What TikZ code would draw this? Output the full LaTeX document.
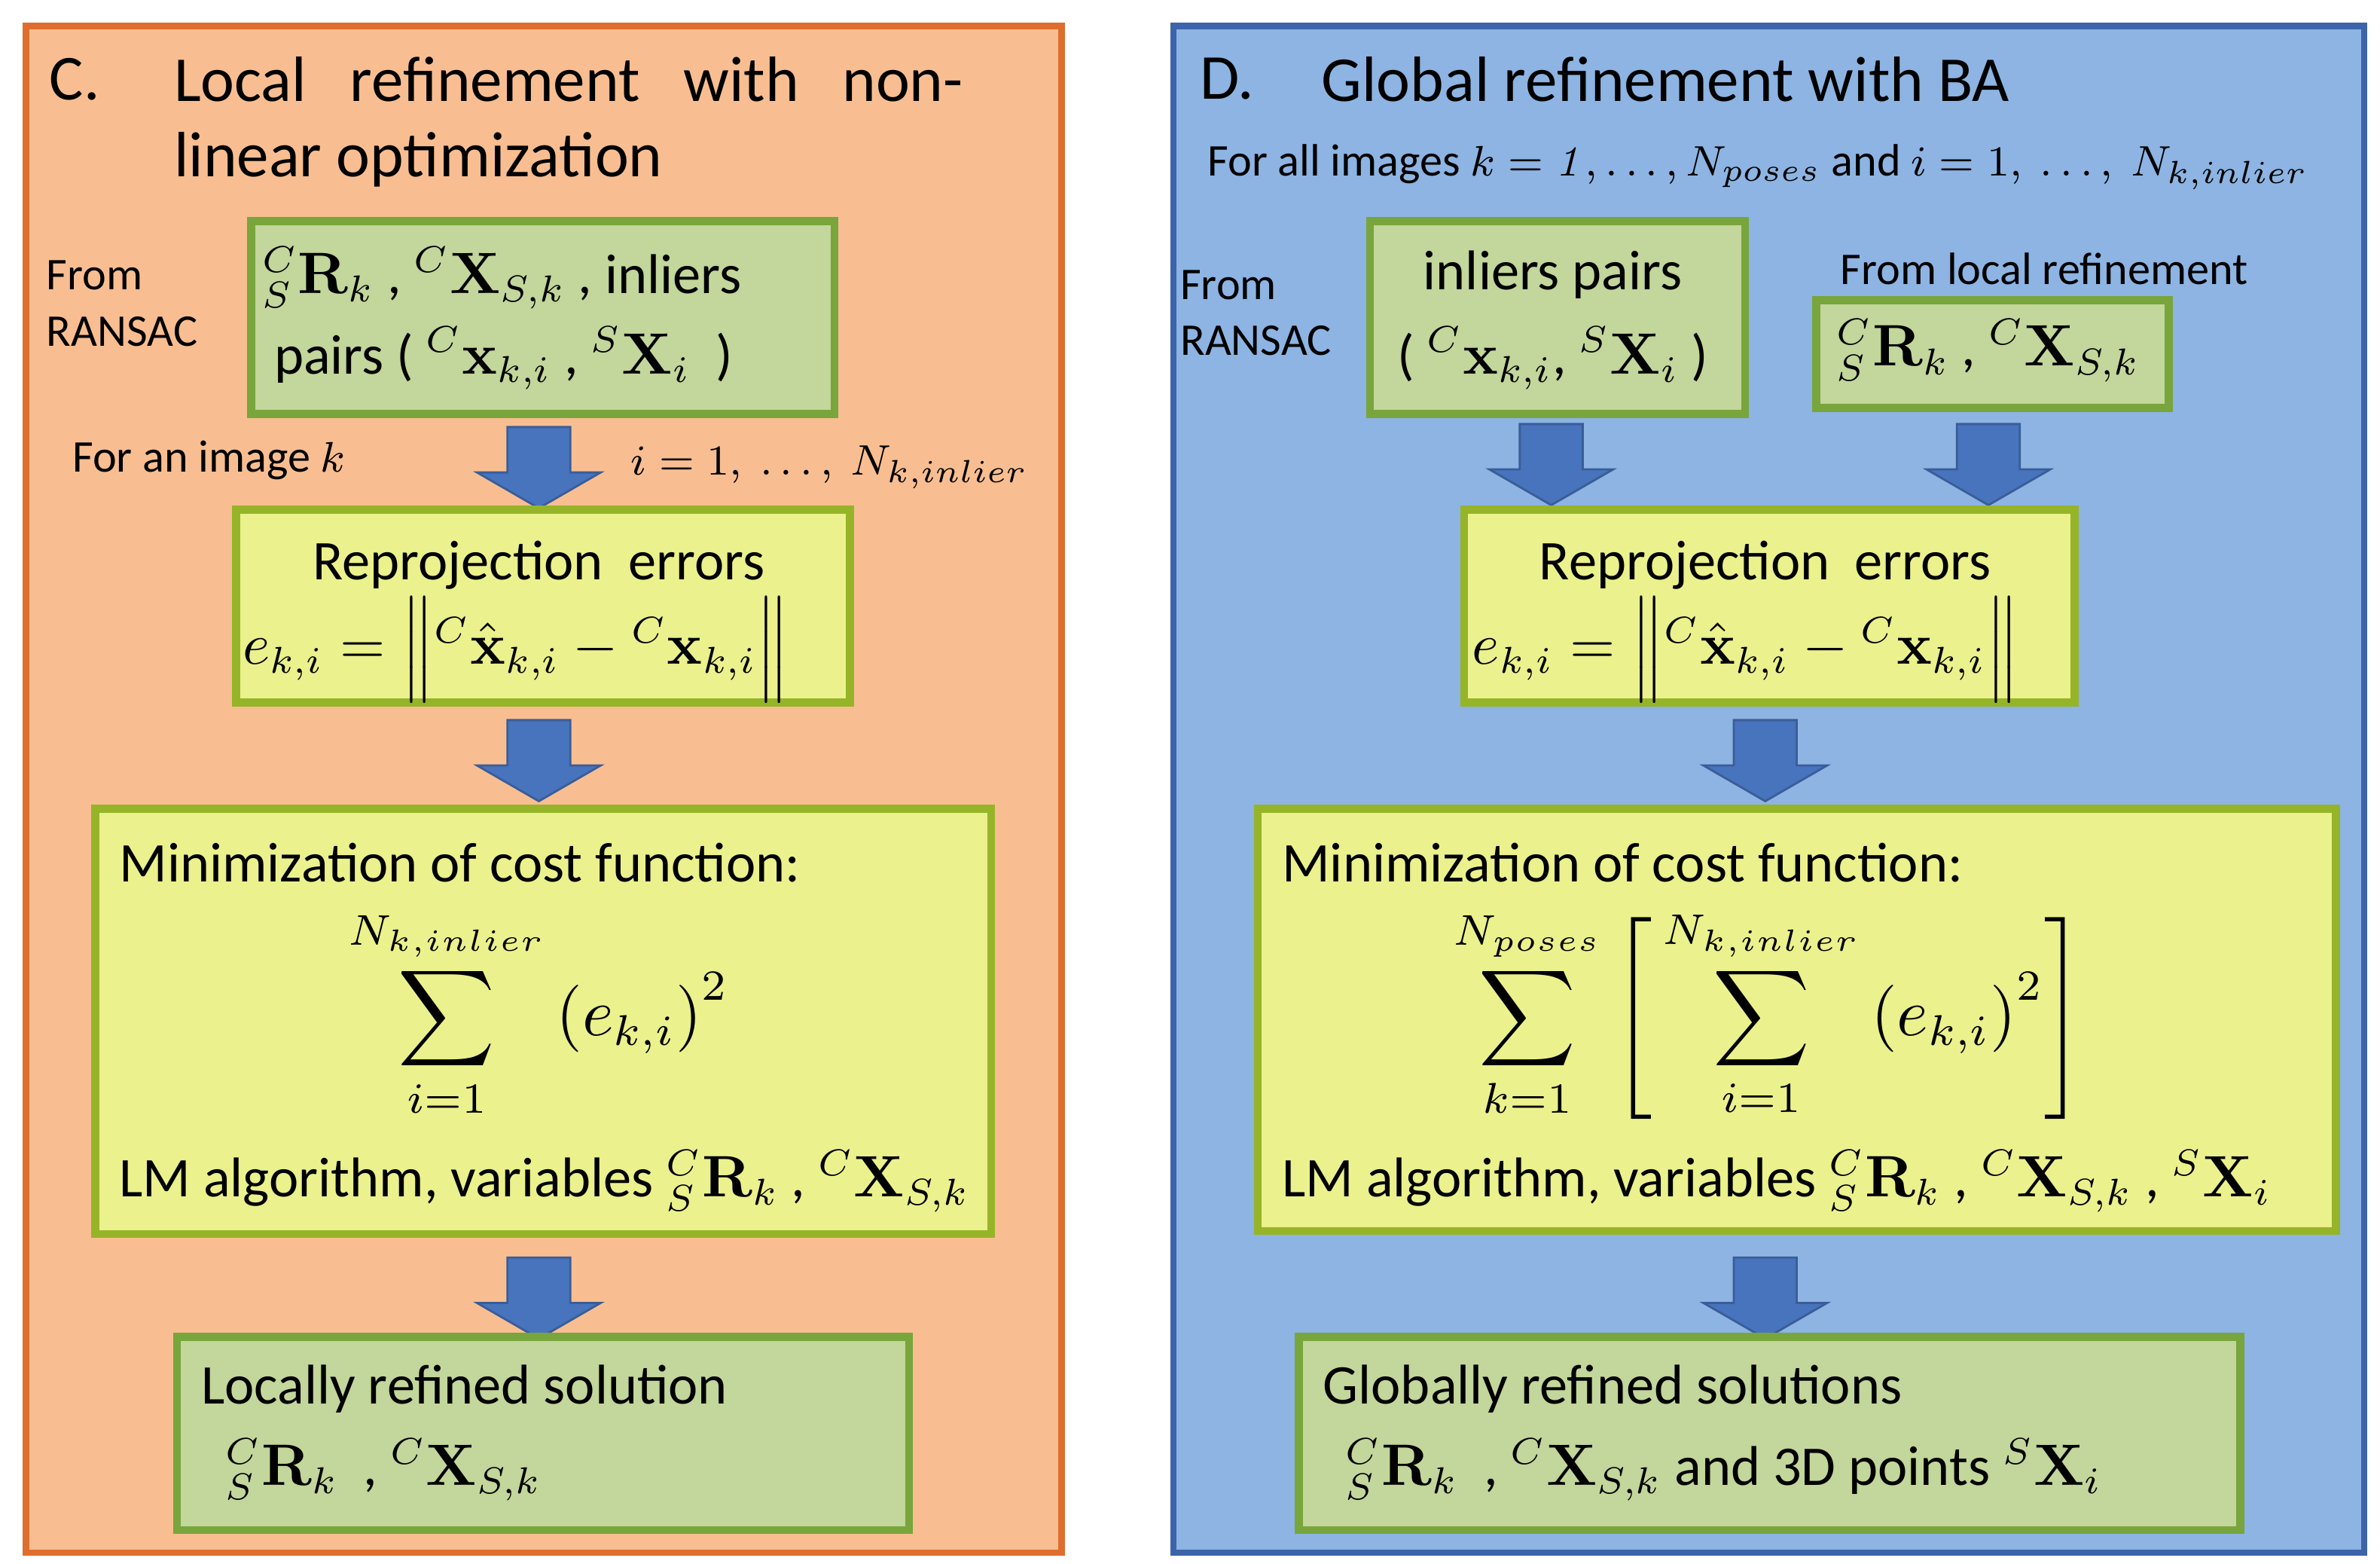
\documentclass[tikz,border=0pt]{standalone}
\usepackage{amsmath}
\usepackage[no-math]{fontspec}
\setmainfont{Carlito}
\usetikzlibrary{shapes.arrows}
\definecolor{panelC}{RGB}{248,190,145}
\definecolor{panelCline}{RGB}{222,110,45}
\definecolor{panelD}{RGB}{141,180,226}
\definecolor{panelDline}{RGB}{60,100,170}
\definecolor{gfill}{RGB}{195,214,155}
\definecolor{gline}{RGB}{120,165,60}
\definecolor{yfill}{RGB}{235,241,140}
\definecolor{yline}{RGB}{150,180,40}
\definecolor{arrowblue}{RGB}{72,116,190}
\newcommand{\RSk}{{}^{C}_{S}\mathbf{R}_k}
\newcommand{\XSk}{{}^{C}\mathbf{X}_{S,k}}
\newcommand{\reperr}{e_{k,i} = \Bigl\| {}^{C}\hat{\mathbf{x}}_{k,i} - {}^{C}\mathbf{x}_{k,i} \Bigr\|}
\begin{document}
\begin{tikzpicture}[x=0.01cm,y=-0.01cm,
    panel/.style={draw, line width=1.2pt, anchor=north west, inner sep=0pt},
    gbox/.style={draw=gline, fill=gfill, line width=1.5pt, anchor=north west, inner sep=0pt},
    ybox/.style={draw=yline, fill=yfill, line width=1.5pt, anchor=north west, inner sep=0pt},
    down/.style={single arrow, shape border rotate=270, fill=arrowblue, draw=arrowblue!80!black,
      minimum height=0.48cm, single arrow tip angle=120, single arrow head extend=0.2cm, inner sep=0.2cm},
    txt/.style={font=\fontsize{10.5}{13}\selectfont, inner sep=0pt},
    small/.style={font=\fontsize{8.5}{10.5}\selectfont, inner sep=0pt},
    title/.style={font=\fontsize{12}{15}\selectfont, inner sep=0pt, anchor=west}]
\useasboundingbox[fill=white] (0,0) rectangle (1568,1030);

% panel C
\node[panel, draw=panelCline, fill=panelC, minimum width=6.82cm, minimum height=10.05cm] (panC) at (15,15) {};
\node[title] (titC0) at (32,52) {C.};
\node[title] (titC1) at (114,52) {Local\ \ \ refinement\ \ \ with\ \ \ non-};
\node[title] (titC2) at (114,105) {linear optimization};
\node[gbox, minimum width=3.84cm, minimum height=1.27cm] (srcC) at (163,143) {};
\node[txt, anchor=west] (srcC1) at (172,183) {$\RSk$ , $\XSk$ , inliers};
\node[txt, anchor=west] (srcC2) at (180,236) {pairs ( ${}^{C}\mathbf{x}_{k,i}$ , ${}^{S}\mathbf{X}_i$ \ )};
\node[small, align=left, anchor=west] (fromC) at (30,200) {From\\RANSAC};
\node[down] (arC1) at (355,302) {};
\node[small, anchor=west] (imgC) at (47,303) {For an image $k$};
\node[small, anchor=west] (idxC) at (415,308) {$i=1,\ \ldots,\ N_{k,inlier}$};
\node[ybox, minimum width=4.04cm, minimum height=1.27cm] (repC) at (153,333) {};
\node[txt] (repC1) at (355,372) {Reprojection\ \ errors};
\node[txt] (repC2) at (340,428) {$\reperr$};
\node[down] (arC2) at (355,495) {};
\node[ybox, minimum width=5.9cm, minimum height=2.8cm] (costC) at (60,530) {};
\node[txt, anchor=west] (costC1) at (78,568) {Minimization of cost function:};
\node[txt, scale=1.15] (costC2) at (355,668) {$\displaystyle\sum_{i=1}^{N_{k,inlier}} \left(e_{k,i}\right)^2$};
\node[txt, anchor=west] (costC3) at (78,778) {LM algorithm, variables $\RSk$ , $\XSk$};
\node[down] (arC3) at (355,849) {};
\node[gbox, minimum width=4.82cm, minimum height=1.27cm] (outC) at (114,878) {};
\node[txt, anchor=west] (outC1) at (132,915) {Locally refined solution};
\node[txt, anchor=west] (outC2) at (148,968) {$\RSk$\ \ , $\XSk$};

% panel D
\node[panel, draw=panelDline, fill=panelD, minimum width=7.84cm, minimum height=10.05cm] (panD) at (771,15) {};
\node[title] (titD0) at (790,52) {D.};
\node[title] (titD) at (870,52) {Global refinement with BA};
\node[small, anchor=west] (allD) at (795,110) {For all images $k=\mathit{1},\ldots,N_{poses}$ and $i=1,\ \ldots,\ N_{k,inlier}$};
\node[gbox, minimum width=2.47cm, minimum height=1.27cm] (srcD) at (900,143) {};
\node[txt] (srcD1) at (1023,181) {inliers pairs};
\node[txt] (srcD2) at (1023,236) {( ${}^{C}\mathbf{x}_{k,i}$, ${}^{S}\mathbf{X}_i$ )};
\node[small, align=left, anchor=west] (fromD) at (777,206) {From\\RANSAC};
\node[small, anchor=west] (locD) at (1212,177) {From local refinement};
\node[gbox, minimum width=2.32cm, minimum height=0.71cm] (prevD) at (1194,195) {};
\node[txt] (prevD1) at (1310,231) {$\RSk$ , $\XSk$};
\node[down] (arD1) at (1022,300) {};
\node[down] (arD2) at (1310,300) {};
\node[ybox, minimum width=4.02cm, minimum height=1.27cm] (repD) at (962,333) {};
\node[txt] (repD1) at (1163,372) {Reprojection\ \ errors};
\node[txt] (repD2) at (1150,428) {$\reperr$};
\node[down] (arD3) at (1163,495) {};
\node[ybox, minimum width=7.1cm, minimum height=2.78cm] (costD) at (826,530) {};
\node[txt, anchor=west] (costD1) at (844,568) {Minimization of cost function:};
\node[txt, scale=1.15] (costD2) at (1165,668) {$\displaystyle\sum_{k=1}^{N_{poses}} \left[\,\sum_{i=1}^{N_{k,inlier}} \left(e_{k,i}\right)^2\right]$};
\node[txt, anchor=west] (costD3) at (844,778) {LM algorithm, variables $\RSk$ , $\XSk$ , ${}^{S}\mathbf{X}_i$};
\node[down] (arD4) at (1163,849) {};
\node[gbox, minimum width=6.2cm, minimum height=1.27cm] (outD) at (853,878) {};
\node[txt, anchor=west] (outD1) at (871,915) {Globally refined solutions};
\node[txt, anchor=west] (outD2) at (886,968) {$\RSk$\ \ , $\XSk$ and 3D points ${}^{S}\mathbf{X}_i$};
\end{tikzpicture}
\end{document}
